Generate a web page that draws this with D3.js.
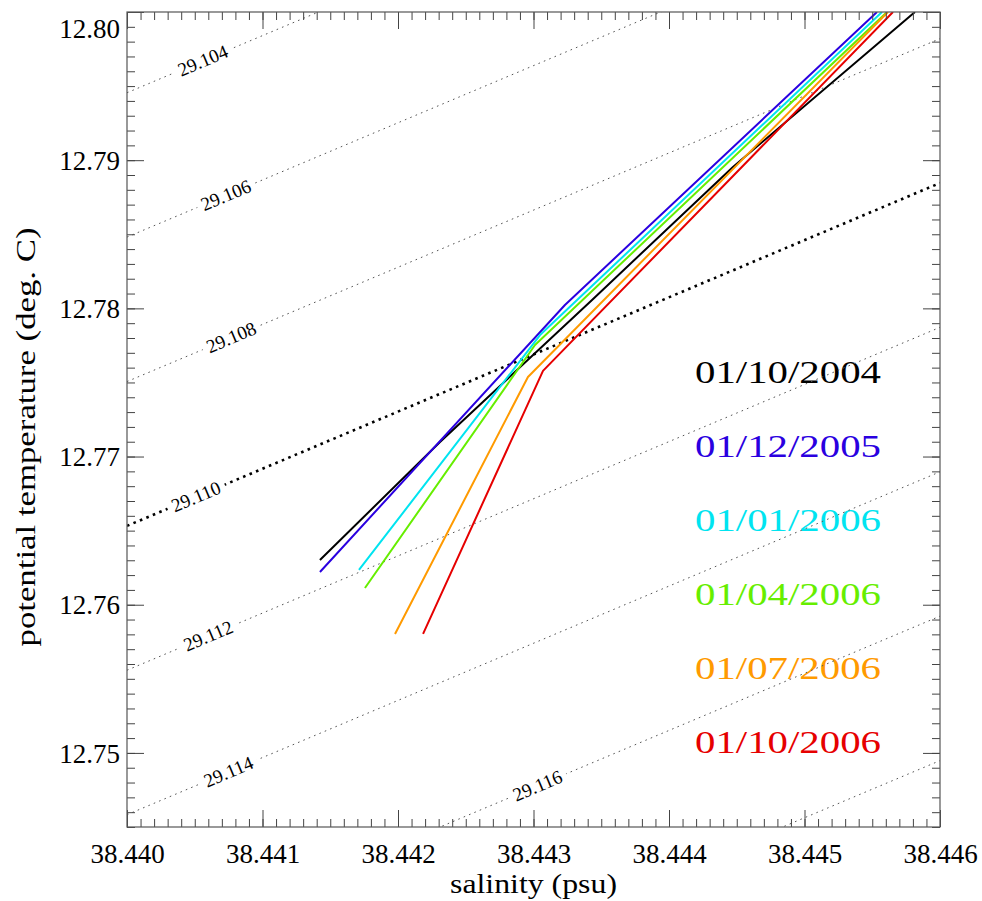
<!DOCTYPE html>
<html>
<head>
<meta charset="utf-8">
<script src="https://cdn.jsdelivr.net/npm/d3@7"></script>
<style>
  body { margin: 0; background: #fff; }
</style>
</head>
<body>
<svg id="ts-svg" width="982" height="901"></svg>
<script>
const serifFont = '"Liberation Serif"';

// axis ticks
const salinityTicks = [38.440, 38.441, 38.442, 38.443, 38.444, 38.445, 38.446];
const tempTicks = [12.75, 12.76, 12.77, 12.78, 12.79, 12.80];

// profile dates and colours
const dates = ["01/10/2004", "01/12/2005", "01/01/2006", "01/04/2006", "01/07/2006", "01/10/2006"];
const lineColors = ["#000000", "#2a00e0", "#00e4f0", "#66ee00", "#ff9a00", "#e60000"];

// salinity / potential temperature, one pair per profile
const sal_2004_10 = [38.441424, 38.442310, 38.443432, 38.444472, 38.445815];
const tem_2004_10 = [12.76302, 12.77098, 12.78057, 12.78954, 12.80000];
const sal_2005_12 = [38.441424, 38.443232, 38.445535];
const tem_2005_12 = [12.76221, 12.78023, 12.80000];
const sal_2006_01 = [38.441712, 38.443048, 38.445572];
const tem_2006_01 = [12.76235, 12.77820, 12.80000];
const sal_2006_04 = [38.441756, 38.443011, 38.445609];
const tem_2006_04 = [12.76113, 12.77753, 12.80000];
const sal_2006_07 = [38.441978, 38.442959, 38.445616];
const tem_2006_07 = [12.75803, 12.77537, 12.80000];
const sal_2006_10 = [38.442185, 38.443070, 38.445653];
const tem_2006_10 = [12.75803, 12.77578, 12.80000];

const salSeries = [sal_2004_10, sal_2005_12, sal_2006_01, sal_2006_04, sal_2006_07, sal_2006_10];
const temSeries = [tem_2004_10, tem_2005_12, tem_2006_01, tem_2006_04, tem_2006_07, tem_2006_10];

// isopycnals: temperature where each one meets the left (38.440) and right (38.446) edge
const sigmaLevels = [29.104, 29.106, 29.108, 29.110, 29.112, 29.114, 29.116, 29.118];
const sigmaLeftT  = [12.79455, 12.78481, 12.77506, 12.76532, 12.75558, 12.74583, 12.73609, 12.72634];
const sigmaRightT = [12.81769, 12.80795, 12.79820, 12.78846, 12.77872, 12.76897, 12.75923, 12.74948];
// salinity at the centre of each contour label (null = no label)
const sigmaLabelS = [38.44056, 38.44073, 38.44077, 38.44051, 38.44060, 38.44075, 38.44303, null];

const plotLeft = 127, plotRight = 940, plotTop = 12, plotBottom = 827;

const svg = d3.select("#ts-svg");

const x = d3.scaleLinear().domain([38.440, 38.446]).range([plotLeft, plotRight]);
const y = d3.scaleLinear().domain([12.745, 12.80]).range([plotBottom, plotTop]);

svg.append("defs").append("clipPath").attr("id", "plot-clip")
  .append("rect")
  .attr("x", plotLeft).attr("y", plotTop)
  .attr("width", plotRight - plotLeft).attr("height", plotBottom - plotTop);

// legend (drawn first, contours run over it like in the original)
const legend = svg.append("g").attr("class", "legend");
dates.forEach((d, i) => {
  legend.append("text")
    .attr("x", 695)
    .attr("y", 383 + i * 74)
    .style("font-family", serifFont)
    .attr("font-size", 32)
    .attr("textLength", 186)
    .attr("lengthAdjust", "spacingAndGlyphs")
    .attr("fill", lineColors[i])
    .text(d);
});

// contour lines
const plot = svg.append("g").attr("clip-path", "url(#plot-clip)");
const sigmaLine = d3.line().x(d => x(d[0])).y(d => y(d[1]));

sigmaLevels.forEach((lev, i) => {
  const pts = [[38.440, sigmaLeftT[i]], [38.446, sigmaRightT[i]]];
  const isRef = Math.abs(lev - 29.110) < 1e-6;
  plot.append("path")
    .attr("d", sigmaLine(pts))
    .attr("fill", "none")
    .attr("stroke", isRef ? "#000" : "#555")
    .attr("stroke-width", isRef ? 2.6 : 1)
    .attr("stroke-dasharray", isRef ? "2.6,4.4" : "1.6,4.2");
});

// contour labels, rotated along their line
sigmaLevels.forEach((lev, i) => {
  if (sigmaLabelS[i] == null) return;
  const slope = (sigmaRightT[i] - sigmaLeftT[i]) / (38.446 - 38.440);
  const s = sigmaLabelS[i];
  const t = sigmaLeftT[i] + slope * (s - 38.440);
  const angle = Math.atan2(y(sigmaRightT[i]) - y(sigmaLeftT[i]), x(38.446) - x(38.440)) * 180 / Math.PI;
  const g = plot.append("g")
    .attr("transform", `translate(${x(s)},${y(t)}) rotate(${angle})`);
  g.append("rect")
    .attr("x", -31).attr("y", -8)
    .attr("width", 62).attr("height", 16)
    .attr("fill", "#fff");
  g.append("text")
    .attr("text-anchor", "middle")
    .attr("dy", "0.33em")
    .style("font-family", serifFont)
    .attr("font-size", 19)
    .attr("fill", "#000")
    .text(d3.format(".3f")(lev));
});

// profiles
const profileLine = d3.line().x(d => x(d[0])).y(d => y(d[1]));
salSeries.forEach((sal, i) => {
  const pts = sal.map((s, j) => [s, temSeries[i][j]]);
  plot.append("path")
    .attr("d", profileLine(pts))
    .attr("fill", "none")
    .attr("stroke", lineColors[i])
    .attr("stroke-width", 2)
    .attr("stroke-linejoin", "round");
});

// axes: ticks point inwards on all four sides
const tickColor = "#444";
function styleAxis(g) {
  g.select(".domain").remove();
  g.selectAll(".tick line").attr("stroke", tickColor);
  g.selectAll(".tick text").style("font-family", serifFont);
}
const xMinor = x.ticks(60);
const yMinor = y.ticks(55);

svg.append("g").attr("transform", `translate(0,${plotBottom})`)
  .call(d3.axisBottom(x).tickValues(xMinor).tickSize(-8).tickFormat("")).call(styleAxis);
svg.append("g").attr("transform", `translate(0,${plotTop})`)
  .call(d3.axisTop(x).tickValues(xMinor).tickSize(-8).tickFormat("")).call(styleAxis);
svg.append("g").attr("transform", `translate(${plotLeft},0)`)
  .call(d3.axisLeft(y).tickValues(yMinor).tickSize(-8).tickFormat("")).call(styleAxis);
svg.append("g").attr("transform", `translate(${plotRight},0)`)
  .call(d3.axisRight(y).tickValues(yMinor).tickSize(-8).tickFormat("")).call(styleAxis);

const xAxis = svg.append("g").attr("transform", `translate(0,${plotBottom})`)
  .call(d3.axisBottom(x).tickValues(salinityTicks).tickSize(-17).tickPadding(17).tickFormat(d3.format(".3f")))
  .call(styleAxis);
xAxis.selectAll("text").attr("font-size", 27).attr("fill", "#000");
svg.append("g").attr("transform", `translate(0,${plotTop})`)
  .call(d3.axisTop(x).tickValues(salinityTicks).tickSize(-17).tickFormat(""))
  .call(styleAxis);

const yAxis = svg.append("g").attr("transform", `translate(${plotLeft},0)`)
  .call(d3.axisLeft(y).tickValues(tempTicks).tickSize(-17).tickPadding(7).tickFormat(d3.format(".2f")))
  .call(styleAxis);
yAxis.selectAll("text").attr("font-size", 27).attr("fill", "#000")
  .attr("dy", d => d === 12.80 ? "0.95em" : "0.34em");
svg.append("g").attr("transform", `translate(${plotRight},0)`)
  .call(d3.axisRight(y).tickValues(tempTicks).tickSize(-17).tickFormat(""))
  .call(styleAxis);

// frame
svg.append("rect")
  .attr("x", plotLeft).attr("y", plotTop)
  .attr("width", plotRight - plotLeft).attr("height", plotBottom - plotTop)
  .attr("fill", "none")
  .attr("stroke", "#555")
  .attr("stroke-width", 1.2);

// axis titles
svg.append("text")
  .attr("x", (plotLeft + plotRight) / 2)
  .attr("y", 893)
  .attr("text-anchor", "middle")
  .style("font-family", serifFont)
  .attr("font-size", 27)
  .attr("textLength", 167)
  .attr("lengthAdjust", "spacingAndGlyphs")
  .text("salinity (psu)");

svg.append("text")
  .attr("transform", "translate(35,437) rotate(-90)")
  .attr("text-anchor", "middle")
  .style("font-family", serifFont)
  .attr("font-size", 27)
  .attr("textLength", 419)
  .attr("lengthAdjust", "spacingAndGlyphs")
  .text("potential temperature (deg. C)");
</script>
</body>
</html>
